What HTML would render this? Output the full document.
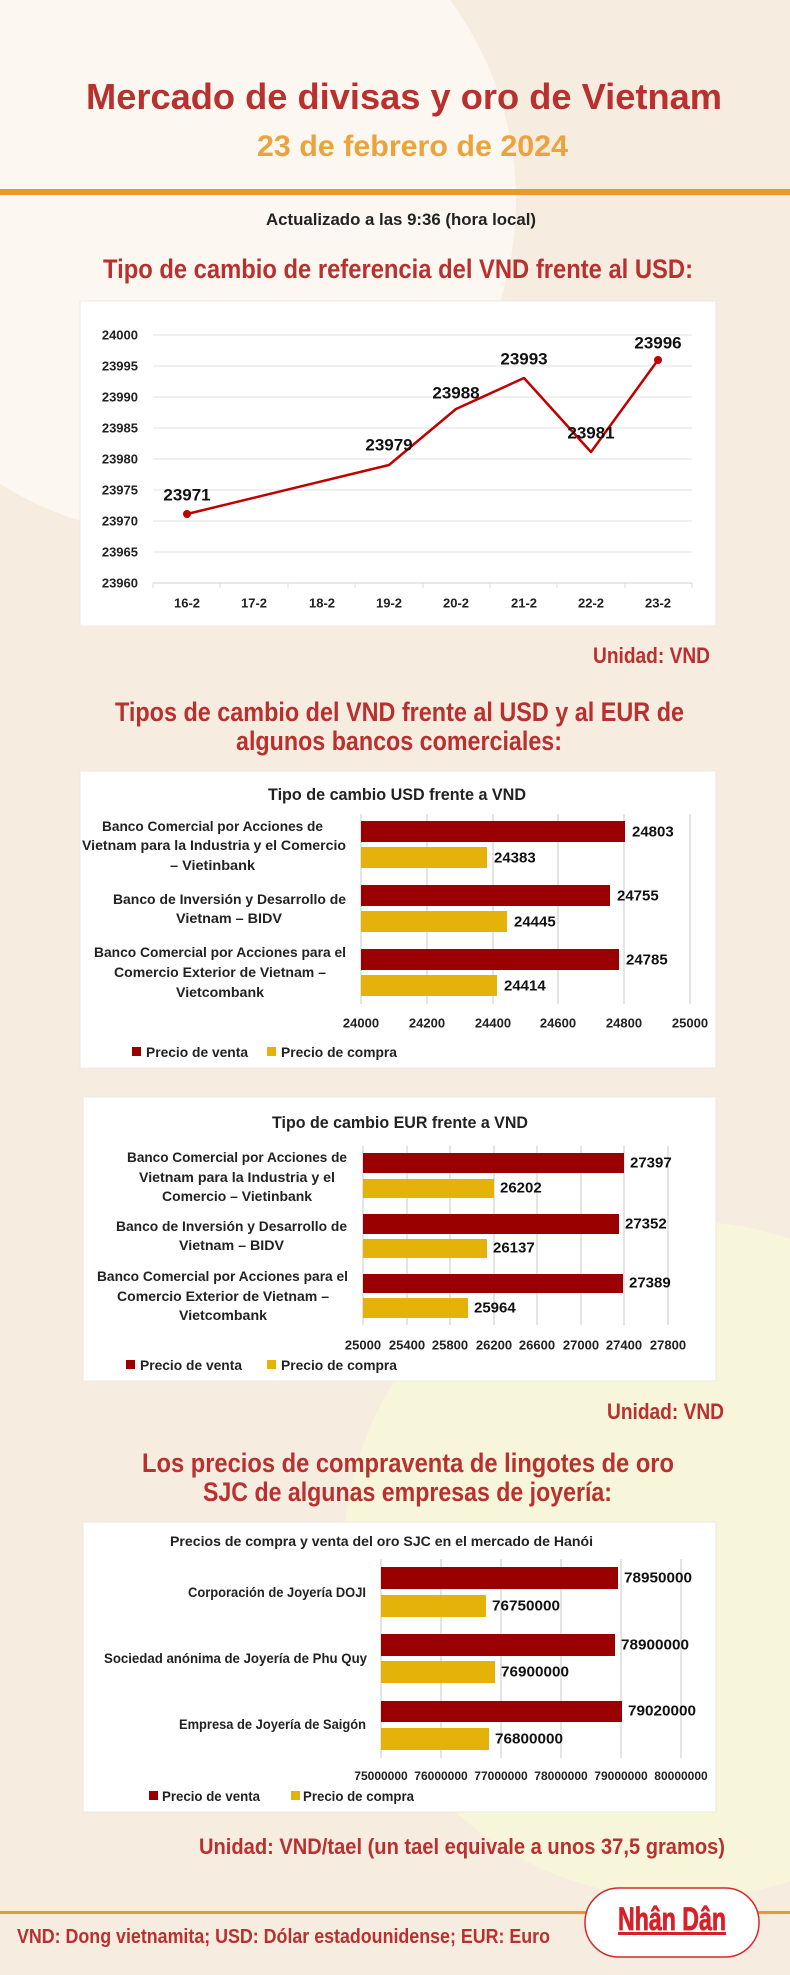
<!DOCTYPE html>
<html><head><meta charset="utf-8"><style>
html,body{margin:0;padding:0;background:#f6ece0;}
svg{display:block;}
text{font-family:"Liberation Sans Narrow","Liberation Sans",sans-serif;font-weight:bold;}
.n{font-family:"Liberation Sans",sans-serif;}
</style></head><body>
<svg width="790" height="1975" viewBox="0 0 790 1975" xmlns="http://www.w3.org/2000/svg">
<rect width="790" height="1975" fill="#f6ece0"/>
<circle cx="180" cy="200" r="336" fill="#fcf8f1"/>
<circle cx="682" cy="1560" r="339" fill="#f7f5da"/>

<!-- header -->
<text x="86" y="109" font-size="36" fill="#b8312f" textLength="636" lengthAdjust="spacingAndGlyphs">Mercado de divisas y oro de Vietnam</text>
<text x="257" y="156" font-size="30" fill="#eaa33d" textLength="311" lengthAdjust="spacingAndGlyphs">23 de febrero de 2024</text>
<rect x="0" y="189" width="790" height="6" fill="#e79a2c"/>
<text x="266" y="225" font-size="17" fill="#222" textLength="270" lengthAdjust="spacingAndGlyphs">Actualizado a las 9:36 (hora local)</text>
<text x="103" y="278" font-size="27" fill="#b8312f" textLength="590" lengthAdjust="spacingAndGlyphs">Tipo de cambio de referencia del VND frente al USD:</text>

<!-- chart 1 -->
<rect x="80" y="301" width="636" height="325" fill="#fff" stroke="#eee8e0"/>
<g stroke="#e6e6e6" stroke-width="1.2">
<line x1="153" x2="692" y1="335" y2="335"/><line x1="153" x2="692" y1="366" y2="366"/>
<line x1="153" x2="692" y1="397" y2="397"/><line x1="153" x2="692" y1="428" y2="428"/>
<line x1="153" x2="692" y1="459" y2="459"/><line x1="153" x2="692" y1="490" y2="490"/>
<line x1="153" x2="692" y1="521" y2="521"/><line x1="153" x2="692" y1="552" y2="552"/>
<line x1="153" x2="692" y1="583" y2="583" stroke="#d9d9d9"/>
</g>
<g stroke="#d9d9d9"><line x1="153" x2="153" y1="583" y2="588"/><line x1="220" x2="220" y1="583" y2="588"/><line x1="288" x2="288" y1="583" y2="588"/><line x1="355" x2="355" y1="583" y2="588"/><line x1="423" x2="423" y1="583" y2="588"/><line x1="490" x2="490" y1="583" y2="588"/><line x1="557" x2="557" y1="583" y2="588"/><line x1="625" x2="625" y1="583" y2="588"/><line x1="692" x2="692" y1="583" y2="588"/></g>
<g font-size="13" fill="#222" text-anchor="end" dominant-baseline="central">
<text class="n" x="138" y="335">24000</text><text class="n" x="138" y="366">23995</text><text class="n" x="138" y="397">23990</text><text class="n" x="138" y="428">23985</text><text class="n" x="138" y="459">23980</text><text class="n" x="138" y="490">23975</text><text class="n" x="138" y="521">23970</text><text class="n" x="138" y="552">23965</text><text class="n" x="138" y="583">23960</text>
</g>
<g font-size="13" fill="#222" text-anchor="middle" dominant-baseline="central">
<text class="n" x="187" y="603">16-2</text><text class="n" x="254" y="603">17-2</text><text class="n" x="322" y="603">18-2</text><text class="n" x="389" y="603">19-2</text><text class="n" x="456" y="603">20-2</text><text class="n" x="524" y="603">21-2</text><text class="n" x="591" y="603">22-2</text><text class="n" x="658" y="603">23-2</text>
</g>
<polyline points="187,514 389,465 456,409 524,378 591,452 658,360" fill="none" stroke="#c00000" stroke-width="2.5" stroke-linejoin="round"/>
<circle cx="187" cy="514" r="4" fill="#c00000"/><circle cx="658" cy="360" r="4" fill="#c00000"/>
<g font-size="17" fill="#111" text-anchor="middle" dominant-baseline="central">
<text class="n" x="187" y="495">23971</text><text class="n" x="389" y="445">23979</text><text class="n" x="456" y="393">23988</text><text class="n" x="524" y="359">23993</text><text class="n" x="591" y="433">23981</text><text class="n" x="658" y="343">23996</text>
</g>
<text x="593" y="663" font-size="22" fill="#b8312f" textLength="117" lengthAdjust="spacingAndGlyphs">Unidad: VND</text>

<!-- section 2 -->
<text x="115" y="721" font-size="27" fill="#b8312f" textLength="569" lengthAdjust="spacingAndGlyphs">Tipos de cambio del VND frente al USD y al EUR de</text>
<text x="236" y="750" font-size="27" fill="#b8312f" textLength="326" lengthAdjust="spacingAndGlyphs">algunos bancos comerciales:</text>

<!-- USD chart -->
<rect x="80" y="771" width="636" height="297" fill="#fff" stroke="#eee8e0"/>
<text x="268" y="800" font-size="17" fill="#222" textLength="258" lengthAdjust="spacingAndGlyphs">Tipo de cambio USD frente a VND</text>
<g stroke="#c8c8c8"><line x1="361" x2="361" y1="814" y2="1004"/><line x1="427" x2="427" y1="814" y2="1004"/><line x1="493" x2="493" y1="814" y2="1004"/><line x1="558" x2="558" y1="814" y2="1004"/><line x1="624" x2="624" y1="814" y2="1004"/><line x1="690" x2="690" y1="814" y2="1004"/></g>
<rect x="361" y="821" width="264" height="21" fill="#9b0000"/>
<rect x="361" y="847" width="126" height="21" fill="#e5b20a"/>
<rect x="361" y="885" width="249" height="21" fill="#9b0000"/>
<rect x="361" y="911" width="146" height="21" fill="#e5b20a"/>
<rect x="361" y="949" width="258" height="21" fill="#9b0000"/>
<rect x="361" y="975" width="136" height="21" fill="#e5b20a"/>
<g font-size="15" fill="#111" dominant-baseline="central">
<text class="n" x="632" y="832">24803</text><text class="n" x="494" y="858">24383</text>
<text class="n" x="617" y="896">24755</text><text class="n" x="514" y="922">24445</text>
<text class="n" x="626" y="960">24785</text><text class="n" x="504" y="986">24414</text>
</g>
<g font-size="14" fill="#222" dominant-baseline="central" lengthAdjust="spacingAndGlyphs">
<text x="102" y="826" textLength="221" lengthAdjust="spacingAndGlyphs">Banco Comercial por Acciones de</text>
<text x="82" y="845" textLength="264" lengthAdjust="spacingAndGlyphs">Vietnam para la Industria y el Comercio</text>
<text x="170" y="865" textLength="85" lengthAdjust="spacingAndGlyphs">– Vietinbank</text>
<text x="113" y="899" textLength="233" lengthAdjust="spacingAndGlyphs">Banco de Inversión y Desarrollo de</text>
<text x="176" y="918" textLength="106" lengthAdjust="spacingAndGlyphs">Vietnam – BIDV</text>
<text x="94" y="952" textLength="252" lengthAdjust="spacingAndGlyphs">Banco Comercial por Acciones para el</text>
<text x="114" y="972" textLength="212" lengthAdjust="spacingAndGlyphs">Comercio Exterior de Vietnam –</text>
<text x="176" y="992" textLength="88" lengthAdjust="spacingAndGlyphs">Vietcombank</text>
</g>
<g font-size="13" fill="#222" text-anchor="middle" dominant-baseline="central">
<text x="361" y="1023">24000</text><text x="427" y="1023">24200</text><text x="493" y="1023">24400</text><text x="558" y="1023">24600</text><text x="624" y="1023">24800</text><text x="690" y="1023">25000</text>
</g>
<rect x="132" y="1047" width="9" height="9" fill="#9b0000"/>
<text x="146" y="1052" font-size="14" fill="#222" dominant-baseline="central" textLength="102" lengthAdjust="spacingAndGlyphs">Precio de venta</text>
<rect x="267" y="1047" width="9" height="9" fill="#e5b20a"/>
<text x="281" y="1052" font-size="14" fill="#222" dominant-baseline="central" textLength="116" lengthAdjust="spacingAndGlyphs">Precio de compra</text>

<!-- EUR chart -->
<rect x="83" y="1097" width="633" height="284" fill="#fff" stroke="#eee8e0"/>
<text x="272" y="1128" font-size="17" fill="#222" textLength="256" lengthAdjust="spacingAndGlyphs">Tipo de cambio EUR frente a VND</text>
<g stroke="#c8c8c8"><line x1="363" x2="363" y1="1146" y2="1325"/><line x1="407" x2="407" y1="1146" y2="1325"/><line x1="450" x2="450" y1="1146" y2="1325"/><line x1="494" x2="494" y1="1146" y2="1325"/><line x1="537" x2="537" y1="1146" y2="1325"/><line x1="581" x2="581" y1="1146" y2="1325"/><line x1="624" x2="624" y1="1146" y2="1325"/><line x1="668" x2="668" y1="1146" y2="1325"/></g>
<rect x="363" y="1153" width="261" height="20" fill="#9b0000"/>
<rect x="363" y="1179" width="131" height="19" fill="#e5b20a"/>
<rect x="363" y="1214" width="256" height="20" fill="#9b0000"/>
<rect x="363" y="1239" width="124" height="19" fill="#e5b20a"/>
<rect x="363" y="1274" width="260" height="19" fill="#9b0000"/>
<rect x="363" y="1298" width="105" height="20" fill="#e5b20a"/>
<g font-size="15" fill="#111" dominant-baseline="central">
<text class="n" x="630" y="1163">27397</text><text class="n" x="500" y="1188">26202</text>
<text class="n" x="625" y="1224">27352</text><text class="n" x="493" y="1248">26137</text>
<text class="n" x="629" y="1283">27389</text><text class="n" x="474" y="1308">25964</text>
</g>
<g font-size="14" fill="#222" dominant-baseline="central">
<text x="127" y="1157" textLength="220" lengthAdjust="spacingAndGlyphs">Banco Comercial por Acciones de</text>
<text x="139" y="1177" textLength="196" lengthAdjust="spacingAndGlyphs">Vietnam para la Industria y el</text>
<text x="162" y="1196" textLength="150" lengthAdjust="spacingAndGlyphs">Comercio – Vietinbank</text>
<text x="116" y="1226" textLength="231" lengthAdjust="spacingAndGlyphs">Banco de Inversión y Desarrollo de</text>
<text x="179" y="1245" textLength="105" lengthAdjust="spacingAndGlyphs">Vietnam – BIDV</text>
<text x="97" y="1276" textLength="251" lengthAdjust="spacingAndGlyphs">Banco Comercial por Acciones para el</text>
<text x="117" y="1296" textLength="212" lengthAdjust="spacingAndGlyphs">Comercio Exterior de Vietnam –</text>
<text x="179" y="1315" textLength="88" lengthAdjust="spacingAndGlyphs">Vietcombank</text>
</g>
<g font-size="13" fill="#222" text-anchor="middle" dominant-baseline="central">
<text x="363" y="1345">25000</text><text x="407" y="1345">25400</text><text x="450" y="1345">25800</text><text x="494" y="1345">26200</text><text x="537" y="1345">26600</text><text x="581" y="1345">27000</text><text x="624" y="1345">27400</text><text x="668" y="1345">27800</text>
</g>
<rect x="126" y="1360" width="9" height="9" fill="#9b0000"/>
<text x="140" y="1365" font-size="14" fill="#222" dominant-baseline="central" textLength="102" lengthAdjust="spacingAndGlyphs">Precio de venta</text>
<rect x="267" y="1360" width="9" height="9" fill="#e5b20a"/>
<text x="281" y="1365" font-size="14" fill="#222" dominant-baseline="central" textLength="116" lengthAdjust="spacingAndGlyphs">Precio de compra</text>

<text x="607" y="1419" font-size="22" fill="#b8312f" textLength="117" lengthAdjust="spacingAndGlyphs">Unidad: VND</text>

<!-- section 3 -->
<text x="142" y="1472" font-size="27" fill="#b8312f" textLength="532" lengthAdjust="spacingAndGlyphs">Los precios de compraventa de lingotes de oro</text>
<text x="203" y="1501" font-size="27" fill="#b8312f" textLength="409" lengthAdjust="spacingAndGlyphs">SJC de algunas empresas de joyería:</text>

<rect x="83" y="1522" width="633" height="290" fill="#fff" stroke="#eee8e0"/>
<text x="170" y="1546" font-size="14" fill="#222" textLength="423" lengthAdjust="spacingAndGlyphs">Precios de compra y venta del oro SJC en el mercado de Hanói</text>
<g stroke="#c8c8c8"><line x1="381" x2="381" y1="1559" y2="1758"/><line x1="441" x2="441" y1="1559" y2="1758"/><line x1="501" x2="501" y1="1559" y2="1758"/><line x1="561" x2="561" y1="1559" y2="1758"/><line x1="621" x2="621" y1="1559" y2="1758"/><line x1="681" x2="681" y1="1559" y2="1758"/></g>
<rect x="381" y="1567" width="237" height="22" fill="#9b0000"/>
<rect x="381" y="1595" width="105" height="22" fill="#e5b20a"/>
<rect x="381" y="1634" width="234" height="22" fill="#9b0000"/>
<rect x="381" y="1661" width="114" height="22" fill="#e5b20a"/>
<rect x="381" y="1701" width="241" height="21" fill="#9b0000"/>
<rect x="381" y="1728" width="108" height="22" fill="#e5b20a"/>
<g font-size="15" fill="#111" dominant-baseline="central">
<text x="624" y="1578" textLength="68" lengthAdjust="spacingAndGlyphs">78950000</text><text x="492" y="1606" textLength="68" lengthAdjust="spacingAndGlyphs">76750000</text>
<text x="621" y="1645" textLength="68" lengthAdjust="spacingAndGlyphs">78900000</text><text x="501" y="1672" textLength="68" lengthAdjust="spacingAndGlyphs">76900000</text>
<text x="628" y="1711" textLength="68" lengthAdjust="spacingAndGlyphs">79020000</text><text x="495" y="1739" textLength="68" lengthAdjust="spacingAndGlyphs">76800000</text>
</g>
<g font-size="14" fill="#222" dominant-baseline="central">
<text x="188" y="1592" textLength="178" lengthAdjust="spacingAndGlyphs">Corporación de Joyería DOJI</text>
<text x="104" y="1658" textLength="263" lengthAdjust="spacingAndGlyphs">Sociedad anónima de Joyería de Phu Quy</text>
<text x="179" y="1724" textLength="187" lengthAdjust="spacingAndGlyphs">Empresa de Joyería de Saigón</text>
</g>
<g font-size="12" fill="#222" text-anchor="middle" dominant-baseline="central">
<text x="381" y="1776">75000000</text><text x="441" y="1776">76000000</text><text x="501" y="1776">77000000</text><text x="561" y="1776">78000000</text><text x="621" y="1776">79000000</text><text x="681" y="1776">80000000</text>
</g>
<rect x="149" y="1791" width="9" height="9" fill="#9b0000"/>
<text x="162" y="1796" font-size="14" fill="#222" dominant-baseline="central" textLength="98" lengthAdjust="spacingAndGlyphs">Precio de venta</text>
<rect x="291" y="1791" width="9" height="9" fill="#e5b20a"/>
<text x="303" y="1796" font-size="14" fill="#222" dominant-baseline="central" textLength="111" lengthAdjust="spacingAndGlyphs">Precio de compra</text>

<text x="199" y="1854" font-size="22" fill="#b8312f" textLength="526" lengthAdjust="spacingAndGlyphs">Unidad: VND/tael (un tael equivale a unos 37,5 gramos)</text>

<!-- footer -->
<rect x="0" y="1911" width="790" height="3" fill="#e79a2c"/>
<text x="17" y="1943" font-size="20" fill="#b8312f" textLength="533" lengthAdjust="spacingAndGlyphs">VND: Dong vietnamita; USD: Dólar estadounidense; EUR: Euro</text>
<rect x="585" y="1888" width="174" height="69" rx="34" fill="#fff" stroke="#d42a2a" stroke-width="1.5"/>
<text x="618" y="1930" font-size="32" fill="#d8202b" font-weight="900" textLength="108" lengthAdjust="spacingAndGlyphs" stroke="#d8202b" stroke-width="0.8">Nhân Dân</text>
<rect x="618" y="1932" width="108" height="3" fill="#d8202b"/>
</svg>
</body></html>
